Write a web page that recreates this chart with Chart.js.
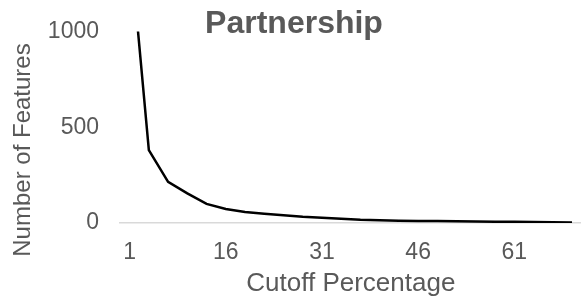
<!DOCTYPE html>
<html>
<head>
<meta charset="utf-8">
<script src="https://cdn.jsdelivr.net/npm/chart.js@4"></script>
<style>
  html, body { margin: 0; padding: 0; background: #fff; overflow: hidden; }
  /* plot runs a few px past the right edge, as in the reference */
  #wrap { width: 588px; height: 305px; position: relative; }
</style>
</head>
<body>
<div id="wrap"><canvas id="chartPartnership"></canvas></div>
<script>
  // Cutoff percentage categories (every 3rd %)
  const CUTOFFS = ["1","4","7","10","13","16","19","22","25","28","31","34",
                   "37","40","43","46","49","52","55","58","61","64","67","70"];
  // Number of features remaining at each cutoff (first value is off the top of the axis)
  const FEATURES = [1480, 380, 215, 155, 100, 73, 57, 48, 40, 32, 27, 22,
                    17, 15, 12, 11, 10, 9, 8, 7, 6, 5, 4, 2];
  const X_TICK_LABELS = ["1", "16", "31", "46", "61"];
  const Y_TICKS = [0, 500, 1000];

  const TEXT = "#595959";
  const FONT = "'Liberation Sans', Arial, sans-serif";

  // y-axis title sits a bit lower than the plot centre, so draw it by hand
  const yTitle = {
    id: "yTitle",
    afterDraw(chart) {
      const ctx = chart.ctx;
      ctx.save();
      ctx.translate(23, 150);
      ctx.rotate(-Math.PI / 2);
      ctx.fillStyle = TEXT;
      ctx.font = "24px " + FONT;
      ctx.textAlign = "center";
      ctx.textBaseline = "middle";
      ctx.fillText("Number of Features", 0, 0);
      ctx.restore();
    }
  };

  new Chart(document.getElementById("chartPartnership"), {
    type: "line",
    data: {
      labels: CUTOFFS,
      datasets: [{
        label: "Partnership",
        data: FEATURES,
        borderColor: "#000",
        borderWidth: 2.5,
        pointRadius: 0,
        tension: 0,
        fill: false
      }]
    },
    plugins: [yTitle],
    options: {
      responsive: true,
      maintainAspectRatio: false,
      animation: false,
      layout: { padding: 0 },
      plugins: {
        legend: { display: false },
        tooltip: { enabled: false },
        title: {
          display: true,
          text: "Partnership",
          color: TEXT,
          font: { family: FONT, size: 32, weight: "bold", lineHeight: 1.2 },
          padding: { top: 5, bottom: -12 }
        }
      },
      scales: {
        x: {
          type: "category",
          offset: true,
          grid: { display: false, drawTicks: false },
          border: { display: true, color: "#d9d9d9", width: 1.5 },
          ticks: {
            autoSkip: false,
            maxRotation: 0,
            padding: 16,
            color: TEXT,
            font: { family: FONT, size: 23 },
            callback: function (v) {
              const l = this.getLabelForValue(v);
              return X_TICK_LABELS.includes(l) ? l : "";
            }
          },
          title: {
            display: true,
            text: "Cutoff Percentage",
            color: TEXT,
            font: { family: FONT, size: 26 },
            padding: { top: 0, bottom: 6 }
          },
          afterFit: (s) => { s.height = 82; }
        },
        y: {
          min: 0,
          max: 1000,
          // invisible tick marks push the labels left without padding the top
          grid: { display: true, drawOnChartArea: false, drawTicks: true,
                  tickLength: 17, color: "rgba(0,0,0,0)" },
          border: { display: false },
          afterBuildTicks: (s) => { s.ticks = Y_TICKS.map(v => ({ value: v })); },
          ticks: {
            padding: 4,
            color: TEXT,
            font: { family: FONT, size: 23 },
            callback: (v) => String(v)
          },
          afterFit: (s) => { s.width = 120; }
        }
      }
    }
  });
</script>
</body>
</html>
